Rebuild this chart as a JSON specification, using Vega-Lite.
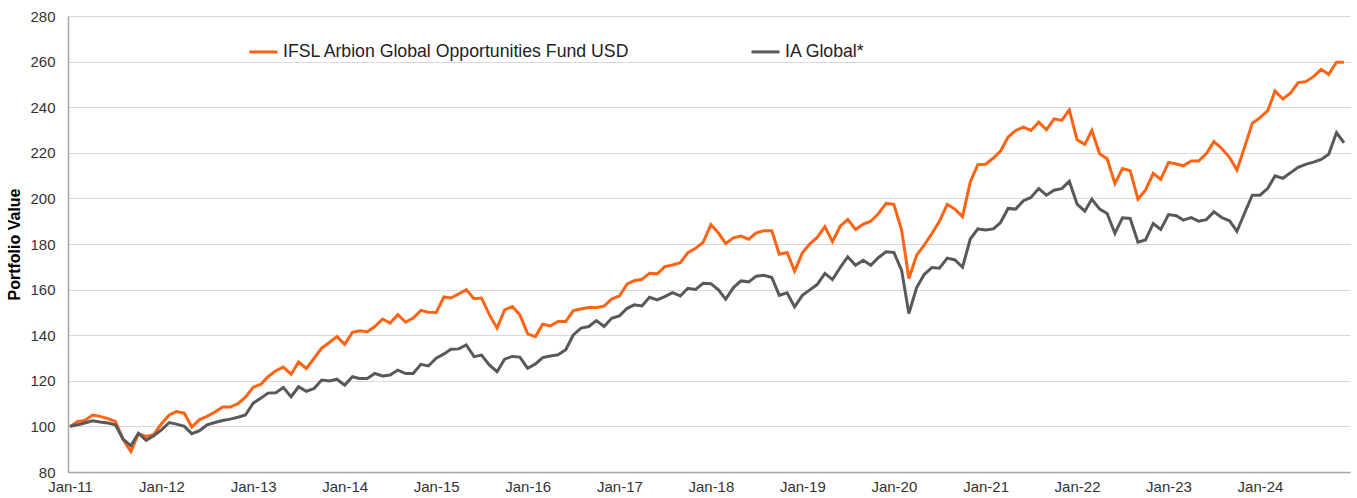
{
 "$schema": "https://vega.github.io/schema/vega-lite/v6.json",
 "width": 1282, "height": 456,
 "autosize": {"type": "none"},
 "padding": {"left": 68, "top": 16, "right": 7, "bottom": 26},
 "background": "white",
 "config": {"view": {"stroke": null}, "font": "Liberation Sans"},
 "data": {"values": [
{"date":"2011-01-01","fund":100,"ia":100},{"date":"2011-02-01","fund":102.2,"ia":100.7},{"date":"2011-03-01","fund":102.6,"ia":101.5},{"date":"2011-04-01","fund":105,"ia":102.5},{"date":"2011-05-01","fund":104.4,"ia":101.9},{"date":"2011-06-01","fund":103.4,"ia":101.5},{"date":"2011-07-01","fund":102.2,"ia":100.7},{"date":"2011-08-01","fund":94.2,"ia":94.4},{"date":"2011-09-01","fund":89,"ia":91.5},{"date":"2011-10-01","fund":96.8,"ia":97},{"date":"2011-11-01","fund":95.6,"ia":93.9},{"date":"2011-12-01","fund":96.4,"ia":95.9},
{"date":"2012-01-01","fund":101.2,"ia":98.5},{"date":"2012-02-01","fund":105,"ia":101.7},{"date":"2012-03-01","fund":106.5,"ia":101},{"date":"2012-04-01","fund":105.8,"ia":100},{"date":"2012-05-01","fund":99.7,"ia":96.8},{"date":"2012-06-01","fund":103,"ia":98.1},{"date":"2012-07-01","fund":104.4,"ia":100.7},{"date":"2012-08-01","fund":106.3,"ia":101.7},{"date":"2012-09-01","fund":108.5,"ia":102.6},{"date":"2012-10-01","fund":108.5,"ia":103.2},{"date":"2012-11-01","fund":110,"ia":104},{"date":"2012-12-01","fund":112.8,"ia":105},
{"date":"2013-01-01","fund":117.2,"ia":110.2},{"date":"2013-02-01","fund":118.5,"ia":112.4},{"date":"2013-03-01","fund":121.8,"ia":114.6},{"date":"2013-04-01","fund":124.4,"ia":114.8},{"date":"2013-05-01","fund":126,"ia":117.1},{"date":"2013-06-01","fund":122.9,"ia":113},{"date":"2013-07-01","fund":128.2,"ia":117.4},{"date":"2013-08-01","fund":125.4,"ia":115.4},{"date":"2013-09-01","fund":129.9,"ia":116.6},{"date":"2013-10-01","fund":134.3,"ia":120.3},{"date":"2013-11-01","fund":136.8,"ia":119.9},{"date":"2013-12-01","fund":139.4,"ia":120.7},
{"date":"2014-01-01","fund":136,"ia":118.1},{"date":"2014-02-01","fund":141.3,"ia":121.8},{"date":"2014-03-01","fund":141.9,"ia":121},{"date":"2014-04-01","fund":141.5,"ia":121},{"date":"2014-05-01","fund":143.8,"ia":123.2},{"date":"2014-06-01","fund":147.1,"ia":122.1},{"date":"2014-07-01","fund":145.3,"ia":122.5},{"date":"2014-08-01","fund":149,"ia":124.7},{"date":"2014-09-01","fund":145.7,"ia":123.2},{"date":"2014-10-01","fund":147.5,"ia":123.2},{"date":"2014-11-01","fund":150.9,"ia":127.2},{"date":"2014-12-01","fund":150.1,"ia":126.5},
{"date":"2015-01-01","fund":150,"ia":129.9},{"date":"2015-02-01","fund":156.8,"ia":131.8},{"date":"2015-03-01","fund":156.3,"ia":133.8},{"date":"2015-04-01","fund":158.1,"ia":134},{"date":"2015-05-01","fund":160,"ia":135.7},{"date":"2015-06-01","fund":156,"ia":130.6},{"date":"2015-07-01","fund":156.3,"ia":131.3},{"date":"2015-08-01","fund":149,"ia":127},{"date":"2015-09-01","fund":143.1,"ia":124},{"date":"2015-10-01","fund":151.1,"ia":129.5},{"date":"2015-11-01","fund":152.6,"ia":130.7},{"date":"2015-12-01","fund":148.9,"ia":130.4},
{"date":"2016-01-01","fund":140.6,"ia":125.5},{"date":"2016-02-01","fund":139.4,"ia":127.4},{"date":"2016-03-01","fund":144.8,"ia":130.2},{"date":"2016-04-01","fund":144.1,"ia":130.9},{"date":"2016-05-01","fund":146,"ia":131.4},{"date":"2016-06-01","fund":146,"ia":133.6},{"date":"2016-07-01","fund":150.8,"ia":140.1},{"date":"2016-08-01","fund":151.5,"ia":143.1},{"date":"2016-09-01","fund":152.1,"ia":143.8},{"date":"2016-10-01","fund":152.1,"ia":146.4},{"date":"2016-11-01","fund":152.8,"ia":143.8},{"date":"2016-12-01","fund":155.9,"ia":147.4},
{"date":"2017-01-01","fund":157.2,"ia":148.5},{"date":"2017-02-01","fund":162.5,"ia":151.8},{"date":"2017-03-01","fund":163.9,"ia":153.3},{"date":"2017-04-01","fund":164.5,"ia":152.8},{"date":"2017-05-01","fund":167.2,"ia":156.6},{"date":"2017-06-01","fund":166.9,"ia":155.5},{"date":"2017-07-01","fund":170.1,"ia":156.9},{"date":"2017-08-01","fund":170.8,"ia":158.7},{"date":"2017-09-01","fund":171.8,"ia":157.2},{"date":"2017-10-01","fund":176.2,"ia":160.6},{"date":"2017-11-01","fund":178.1,"ia":160.1},{"date":"2017-12-01","fund":180.7,"ia":162.8},
{"date":"2018-01-01","fund":188.5,"ia":162.6},{"date":"2018-02-01","fund":184.7,"ia":159.8},{"date":"2018-03-01","fund":180.2,"ia":155.8},{"date":"2018-04-01","fund":182.7,"ia":160.9},{"date":"2018-05-01","fund":183.5,"ia":163.8},{"date":"2018-06-01","fund":182.1,"ia":163.4},{"date":"2018-07-01","fund":184.9,"ia":165.9},{"date":"2018-08-01","fund":185.8,"ia":166.3},{"date":"2018-09-01","fund":185.8,"ia":165.3},{"date":"2018-10-01","fund":175.5,"ia":157.5},{"date":"2018-11-01","fund":176.3,"ia":158.6},{"date":"2018-12-01","fund":168.1,"ia":152.4},
{"date":"2019-01-01","fund":176.1,"ia":157.5},{"date":"2019-02-01","fund":180.2,"ia":160},{"date":"2019-03-01","fund":182.9,"ia":162.2},{"date":"2019-04-01","fund":187.6,"ia":167.1},{"date":"2019-05-01","fund":181,"ia":164.4},{"date":"2019-06-01","fund":187.8,"ia":169.7},{"date":"2019-07-01","fund":190.8,"ia":174.4},{"date":"2019-08-01","fund":186.4,"ia":170.7},{"date":"2019-09-01","fund":188.7,"ia":172.9},{"date":"2019-10-01","fund":190,"ia":170.7},{"date":"2019-11-01","fund":193.4,"ia":174.1},{"date":"2019-12-01","fund":197.8,"ia":176.6},
{"date":"2020-01-01","fund":197.4,"ia":176.3},{"date":"2020-02-01","fund":186.1,"ia":168.5},{"date":"2020-03-01","fund":164.9,"ia":149.5},{"date":"2020-04-01","fund":175.1,"ia":160.9},{"date":"2020-05-01","fund":179.5,"ia":166.6},{"date":"2020-06-01","fund":184.6,"ia":169.7},{"date":"2020-07-01","fund":190,"ia":169.4},{"date":"2020-08-01","fund":197.4,"ia":173.8},{"date":"2020-09-01","fund":195.3,"ia":173},{"date":"2020-10-01","fund":192,"ia":169.8},{"date":"2020-11-01","fund":207.2,"ia":182.2},{"date":"2020-12-01","fund":214.8,"ia":186.6},
{"date":"2021-01-01","fund":215,"ia":186.1},{"date":"2021-02-01","fund":217.7,"ia":186.6},{"date":"2021-03-01","fund":220.6,"ia":189.3},{"date":"2021-04-01","fund":226.9,"ia":195.6},{"date":"2021-05-01","fund":229.8,"ia":195.3},{"date":"2021-06-01","fund":231.3,"ia":199},{"date":"2021-07-01","fund":229.8,"ia":200.4},{"date":"2021-08-01","fund":233.4,"ia":204.3},{"date":"2021-09-01","fund":230.1,"ia":201.4},{"date":"2021-10-01","fund":234.9,"ia":203.6},{"date":"2021-11-01","fund":234.2,"ia":204.3},{"date":"2021-12-01","fund":238.8,"ia":207.5},
{"date":"2022-01-01","fund":225.7,"ia":197.5},{"date":"2022-02-01","fund":223.7,"ia":194.4},{"date":"2022-03-01","fund":229.8,"ia":199.7},{"date":"2022-04-01","fund":219.6,"ia":195.3},{"date":"2022-05-01","fund":217.4,"ia":193.4},{"date":"2022-06-01","fund":206.5,"ia":184.7},{"date":"2022-07-01","fund":213.1,"ia":191.5},{"date":"2022-08-01","fund":212.1,"ia":191.2},{"date":"2022-09-01","fund":199.7,"ia":180.8},{"date":"2022-10-01","fund":203.6,"ia":181.8},{"date":"2022-11-01","fund":211,"ia":189},{"date":"2022-12-01","fund":208.3,"ia":186.4},
{"date":"2023-01-01","fund":215.8,"ia":192.9},{"date":"2023-02-01","fund":215.1,"ia":192.4},{"date":"2023-03-01","fund":214.3,"ia":190.5},{"date":"2023-04-01","fund":216.4,"ia":191.6},{"date":"2023-05-01","fund":216.4,"ia":190},{"date":"2023-06-01","fund":219.7,"ia":190.7},{"date":"2023-07-01","fund":224.9,"ia":194.1},{"date":"2023-08-01","fund":221.9,"ia":191.6},{"date":"2023-09-01","fund":218,"ia":190.2},{"date":"2023-10-01","fund":212.4,"ia":185.6},{"date":"2023-11-01","fund":222.7,"ia":193.7},{"date":"2023-12-01","fund":232.9,"ia":201.4},
{"date":"2024-01-01","fund":235.4,"ia":201.4},{"date":"2024-02-01","fund":238.5,"ia":204.4},{"date":"2024-03-01","fund":247.1,"ia":209.9},{"date":"2024-04-01","fund":243.6,"ia":208.8},{"date":"2024-05-01","fund":246.1,"ia":211.2},{"date":"2024-06-01","fund":250.8,"ia":213.6},{"date":"2024-07-01","fund":251.2,"ia":214.9},{"date":"2024-08-01","fund":253.4,"ia":215.9},{"date":"2024-09-01","fund":256.6,"ia":217.1},{"date":"2024-10-01","fund":254.4,"ia":219.4},{"date":"2024-11-01","fund":259.7,"ia":228.8},{"date":"2024-12-01","fund":259.7,"ia":224.4}
 ]},
 "transform": [{"fold": ["fund", "ia"], "as": ["series", "value"]}],
 "mark": {"type": "line", "strokeWidth": 3, "strokeJoin": "miter"},
 "encoding": {
  "x": {
   "field": "date", "type": "temporal",
   "scale": {"type": "utc", "domain": [{"year": 2010, "month": 12, "date": 24, "utc": true}, {"year": 2024, "month": 12, "date": 25, "utc": true}]},
   "axis": {
    "title": null,
    "values": [
     {"year": 2011, "month": 1, "date": 1, "utc": true}, {"year": 2012, "month": 1, "date": 1, "utc": true},
     {"year": 2013, "month": 1, "date": 1, "utc": true}, {"year": 2014, "month": 1, "date": 1, "utc": true},
     {"year": 2015, "month": 1, "date": 1, "utc": true}, {"year": 2016, "month": 1, "date": 1, "utc": true},
     {"year": 2017, "month": 1, "date": 1, "utc": true}, {"year": 2018, "month": 1, "date": 1, "utc": true},
     {"year": 2019, "month": 1, "date": 1, "utc": true}, {"year": 2020, "month": 1, "date": 1, "utc": true},
     {"year": 2021, "month": 1, "date": 1, "utc": true}, {"year": 2022, "month": 1, "date": 1, "utc": true},
     {"year": 2023, "month": 1, "date": 1, "utc": true}, {"year": 2024, "month": 1, "date": 1, "utc": true}
    ],
    "labelExpr": "utcFormat(datum.value, '%b-%y')",
    "grid": false, "ticks": false,
    "domainColor": "#a6a6a6", "domainWidth": 1.5,
    "labelFontSize": 15, "labelColor": "#333333", "labelPadding": 7,
    "labelFlush": false, "labelOverlap": false
   }
  },
  "y": {
   "field": "value", "type": "quantitative",
   "scale": {"domain": [80, 280], "nice": false, "zero": false},
   "axis": {
    "title": "Portfolio Value",
    "values": [80, 100, 120, 140, 160, 180, 200, 220, 240, 260, 280],
    "grid": true, "gridColor": "#d9d9d9", "gridWidth": 1,
    "ticks": false,
    "domainColor": "#a6a6a6", "domainWidth": 1.5,
    "labelFontSize": 15, "labelColor": "#333333", "labelPadding": 13,
    "titleFontSize": 16, "titleFontWeight": "bold", "titleColor": "#000000",
    "titleX": -46, "titleY": 228
   }
  },
  "color": {
   "field": "series", "type": "nominal",
   "scale": {"domain": ["fund", "ia"], "range": ["#FF6314", "#595959"]},
   "legend": {
    "title": null, "orient": "none", "legendX": 180, "legendY": 20,
    "direction": "horizontal", "padding": 0,
    "symbolType": "stroke", "symbolSize": 784, "symbolStrokeWidth": 3,
    "labelFontSize": 17.7, "labelColor": "#222222", "labelOffset": 4, "labelLimit": 600,
    "columnPadding": 114,
    "labelExpr": "datum.label == 'fund' ? 'IFSL Arbion Global Opportunities Fund USD' : 'IA Global*'"
   }
  }
 }
}
